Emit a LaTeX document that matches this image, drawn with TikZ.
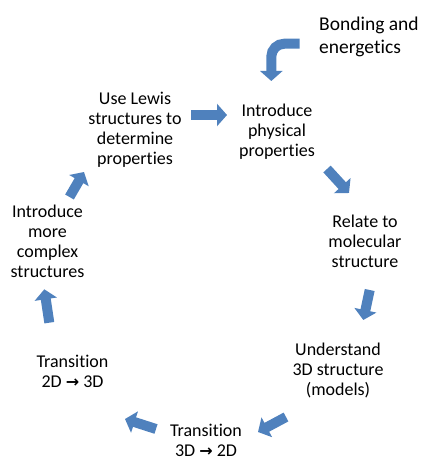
\documentclass[tikz,border=0pt]{standalone}
\usepackage{fontspec}
\setmainfont{Carlito}[Ligatures={NoCommon,NoContextual}]
\newfontfamily\arrowfont{DejaVu Sans}
\usetikzlibrary{arrows.meta}
\definecolor{officeblue}{RGB}{79,129,189}
\tikzset{
  lbl/.style={align=center, inner sep=0pt, text=black, font=\fontsize{18}{20}\selectfont},
  blockarrow/.style={draw=officeblue, line width=10pt,
    -{Triangle[width=22pt,length=10pt]}, officeblue},
}
\newcommand{\ra}{{\arrowfont\bfseries\fontsize{16}{20}\selectfont →}}
\begin{document}
\begin{tikzpicture}[x=1pt,y=-1pt]
\useasboundingbox (0,0) rectangle (420,457);
% text nodes
\node[lbl] (lewis) at (135,130) {Use Lewis\\structures to\\determine\\properties};
\node[lbl] (phys) at (277,131.5) {Introduce\\physical\\properties};
\node[lbl] (relate) at (365,241.7) {Relate to\\molecular\\structure};
\node[lbl] (under) at (338,370) {Understand\\3D structure\\(models)};
\node[lbl] (t32) at (206,440) {Transition\\3D \ra{} 2D};
\node[lbl] (t23) at (72.5,371) {Transition\\2D \ra{} 3D};
\node[lbl] (complex) at (47.5,241.5) {Introduce\\more\\complex\\structures};
\node[lbl, align=left, anchor=west, font=\fontsize{19.5}{23}\selectfont] (bond) at (319,36.5) {Bonding and\\energetics};
% arrow end points
\coordinate (a1) at (191,115);   \coordinate (a2) at (227,115);
\coordinate (k1) at (299.5,43.7); \coordinate (k2) at (271.3,43.7); \coordinate (k3) at (271.3,81);
\coordinate (b1) at (327,169);   \coordinate (b2) at (349,193);
\coordinate (c1) at (369.7,290); \coordinate (c2) at (363.3,320);
\coordinate (d1) at (286,417);   \coordinate (d2) at (258,432);
\coordinate (e1) at (156,429);   \coordinate (e2) at (125,419);
\coordinate (f1) at (49.3,322.7); \coordinate (f2) at (44.3,289.3);
\coordinate (g1) at (69.5,197);  \coordinate (g2) at (84,172);
% block arrows
\draw[blockarrow] (a1) -- (a2);
\draw[blockarrow, rounded corners=13pt] (k1) -- (k2) -- (k3);
\draw[blockarrow] (b1) -- (b2);
\draw[blockarrow] (c1) -- (c2);
\draw[blockarrow] (d1) -- (d2);
\draw[blockarrow] (e1) -- (e2);
\draw[blockarrow] (f1) -- (f2);
\draw[blockarrow] (g1) -- (g2);
\end{tikzpicture}
\end{document}
